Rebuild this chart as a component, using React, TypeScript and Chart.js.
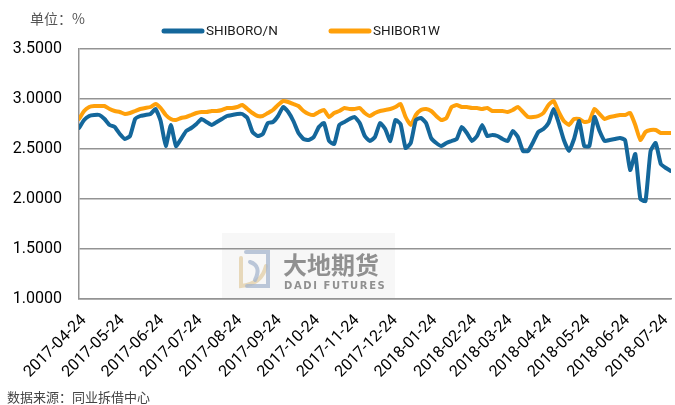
import React, { useEffect, useRef } from "react";
import { Chart, registerables } from "chart.js";

Chart.register(...registerables);

// ---------------- data ----------------
const startDate = "2017-04-24";
const stepDays = 4; // one sample every 4 calendar days
const seriesNames = ["SHIBORO/N", "SHIBOR1W"];
const tickLabels = [
  "2017-04-24", "2017-05-24", "2017-06-24", "2017-07-24", "2017-08-24",
  "2017-09-24", "2017-10-24", "2017-11-24", "2017-12-24", "2018-01-24",
  "2018-02-24", "2018-03-24", "2018-04-24", "2018-05-24", "2018-06-24",
  "2018-07-24",
];
const yTicks = [1.0, 1.5, 2.0, 2.5, 3.0, 3.5];

const shiborON = [
  2.71, 2.79, 2.83, 2.84, 2.84, 2.80, 2.74, 2.72, 2.65, 2.60,
  2.63, 2.80, 2.83, 2.84, 2.85, 2.90, 2.78, 2.53, 2.74, 2.53,
  2.60, 2.68, 2.71, 2.75, 2.80, 2.77, 2.74, 2.77, 2.80, 2.83,
  2.84, 2.85, 2.85, 2.81, 2.67, 2.63, 2.65, 2.76, 2.77, 2.83,
  2.92, 2.87, 2.78, 2.66, 2.60, 2.59, 2.62, 2.72, 2.76, 2.58,
  2.55, 2.74, 2.77, 2.80, 2.82, 2.76, 2.63, 2.58, 2.62, 2.76,
  2.70, 2.58, 2.79, 2.75, 2.51, 2.56, 2.79, 2.81, 2.76, 2.61,
  2.56, 2.53, 2.56, 2.58, 2.60, 2.72, 2.66, 2.58, 2.63, 2.74,
  2.63, 2.64, 2.63, 2.60, 2.58, 2.68, 2.62, 2.48, 2.48, 2.57,
  2.67, 2.70, 2.76, 2.90, 2.76, 2.59, 2.48, 2.60, 2.78, 2.53,
  2.53, 2.82, 2.68, 2.58, 2.59, 2.60, 2.61, 2.59, 2.29, 2.45,
  2.00, 1.98, 2.48, 2.56, 2.35, 2.31, 2.28,
];

const shibor1W = [
  2.80, 2.88, 2.92, 2.93, 2.93, 2.93, 2.90, 2.88, 2.87, 2.85,
  2.86, 2.88, 2.90, 2.91, 2.92, 2.95, 2.91, 2.84, 2.80, 2.79,
  2.81, 2.82, 2.84, 2.86, 2.87, 2.87, 2.88, 2.88, 2.89, 2.91,
  2.91, 2.92, 2.94, 2.90, 2.86, 2.83, 2.83, 2.86, 2.89, 2.94,
  2.98, 2.97, 2.95, 2.93, 2.88, 2.85, 2.84, 2.87, 2.89, 2.82,
  2.86, 2.88, 2.91, 2.90, 2.90, 2.91, 2.86, 2.83, 2.86, 2.88,
  2.89, 2.90, 2.92, 2.95, 2.82, 2.74, 2.84, 2.89, 2.90, 2.88,
  2.83, 2.79, 2.81, 2.92, 2.94, 2.92, 2.92, 2.91, 2.91, 2.90,
  2.91, 2.88, 2.88, 2.88, 2.87, 2.89, 2.92, 2.87, 2.82, 2.82,
  2.83, 2.86, 2.94, 2.98, 2.87, 2.78, 2.74, 2.80, 2.80, 2.77,
  2.78, 2.90, 2.85, 2.80, 2.82, 2.83, 2.84, 2.84, 2.86, 2.74,
  2.59, 2.67, 2.69, 2.69, 2.66, 2.66, 2.66,
];

// ---------------- styles ----------------
const BLUE = "#14679b";
const ORANGE = "#ffa00a";
const GRID = "#939393";
const FONT = "Roboto, 'Liberation Sans', sans-serif";

function dayOffset(s: string): number {
  const [y, m, d] = s.split("-").map(Number);
  const [y0, m0, d0] = startDate.split("-").map(Number);
  return Math.round((Date.UTC(y, m - 1, d) - Date.UTC(y0, m0 - 1, d0)) / 86400000);
}

const watermarkPlugin = {
  id: "watermark",
  beforeDraw(chart: any) {
    const ctx = chart.ctx as CanvasRenderingContext2D;
    ctx.save();
    ctx.fillStyle = "rgba(245,245,245,0.8)";
    ctx.fillRect(222, 233, 173, 65);
    // logo
    ctx.lineWidth = 4;
    ctx.lineCap = "round";
    ctx.strokeStyle = "rgba(225,205,165,0.75)";
    ctx.beginPath();
    ctx.moveTo(241, 258);
    ctx.lineTo(241, 286);
    ctx.quadraticCurveTo(262, 284, 266, 266);
    ctx.stroke();
    ctx.strokeStyle = "rgba(165,182,205,0.75)";
    ctx.beginPath();
    ctx.moveTo(246, 252);
    ctx.lineTo(268, 252);
    ctx.lineTo(268, 286);
    ctx.lineTo(247, 286);
    ctx.stroke();
    ctx.beginPath();
    ctx.moveTo(250, 262);
    ctx.quadraticCurveTo(262, 266, 255, 280);
    ctx.stroke();
    // text
    ctx.fillStyle = "rgba(110,110,110,0.75)";
    ctx.textBaseline = "alphabetic";
    ctx.textAlign = "left";
    ctx.font = "bold 24px 'Noto Sans CJK SC'";
    ctx.fillText("大地期货", 283, 274);
    ctx.font = "bold 10px 'DejaVu Sans'";
    const sub = "DADI FUTURES";
    let x = 284;
    for (const ch of sub) {
      ctx.fillText(ch, x, 289);
      x += ctx.measureText(ch).width + 1.6;
    }
    ctx.restore();
  },
};

const legendPlugin = {
  id: "customLegend",
  afterDraw(chart: any) {
    const ctx = chart.ctx as CanvasRenderingContext2D;
    const xs = [162, 329];
    const y = 31;
    ctx.save();
    chart.data.datasets.forEach((ds: any, i: number) => {
      const x = xs[i];
      ctx.strokeStyle = ds.borderColor;
      ctx.lineWidth = 5;
      ctx.lineCap = "round";
      ctx.beginPath();
      ctx.moveTo(x + 2, y);
      ctx.lineTo(x + 40, y);
      ctx.stroke();
      ctx.fillStyle = "#1a1a1a";
      ctx.font = `13.5px ${FONT}`;
      ctx.textBaseline = "middle";
      ctx.textAlign = "left";
      ctx.fillText(ds.label, x + 44, y + 1);
    });
    ctx.restore();
  },
};

export default function App() {
  const ref = useRef<HTMLCanvasElement>(null);

  useEffect(() => {
    const canvas = ref.current!;
    const tickDays = tickLabels.map(dayOffset);
    const toPoints = (vals: number[]) => vals.map((v, i) => ({ x: i * stepDays, y: v }));
    const xMax = (shiborON.length - 1) * stepDays;

    const lineStyle = {
      borderWidth: 4,
      pointRadius: 0,
      tension: 0.15,
      borderJoinStyle: "round" as const,
      borderCapStyle: "round" as const,
      fill: false,
    };

    const chart = new Chart(canvas, {
      type: "line",
      data: {
        datasets: [
          { label: seriesNames[0], data: toPoints(shiborON), borderColor: BLUE, backgroundColor: BLUE, ...lineStyle },
          { label: seriesNames[1], data: toPoints(shibor1W), borderColor: ORANGE, backgroundColor: ORANGE, ...lineStyle },
        ],
      },
      options: {
        responsive: false,
        animation: false,
        layout: { padding: { left: 0, right: 4, top: 49, bottom: 0 } },
        plugins: { legend: { display: false }, tooltip: { enabled: false } },
        scales: {
          x: {
            type: "linear",
            min: 0,
            max: xMax,
            afterBuildTicks: (s: any) => {
              s.ticks = tickDays.map((v) => ({ value: v }));
            },
            afterFit: (s: any) => {
              s.height = 106;
              s.paddingLeft = 0;
              s.paddingRight = 0;
            },
            grid: { display: false, drawTicks: false },
            border: { color: GRID, width: 1.5 },
            ticks: {
              autoSkip: false,
              minRotation: 45,
              maxRotation: 45,
              padding: 12,
              labelOffset: 5,
              color: "#000",
              font: { family: FONT, size: 16 },
              callback: (v: any) => {
                const i = tickDays.indexOf(Number(v));
                return i >= 0 ? tickLabels[i] : "";
              },
            },
          },
          y: {
            min: 1,
            max: 3.5,
            afterBuildTicks: (s: any) => {
              s.ticks = yTicks.map((v) => ({ value: v }));
            },
            afterFit: (s: any) => {
              s.width = 79;
            },
            grid: { color: GRID, lineWidth: 1.5, drawTicks: false },
            border: { color: GRID, width: 1.5 },
            ticks: {
              padding: 17,
              color: "#000",
              font: { family: FONT, size: 16 },
              callback: (v: any) => Number(v).toFixed(4),
            },
          },
        },
      },
      plugins: [watermarkPlugin, legendPlugin],
    });
    return () => chart.destroy();
  }, []);

  return (
    <div style={{ position: "fixed", left: 0, top: 0, width: 675, height: 405, background: "#fff" }}>
      <canvas ref={ref} width={675} height={405} style={{ display: "block" }} />
      <div
        style={{
          position: "absolute", left: 30, top: 9, fontSize: 14, color: "#555",
          fontFamily: "'Noto Sans CJK SC', sans-serif", whiteSpace: "nowrap", lineHeight: "18px",
        }}
      >
        单位：%
      </div>
      <div
        style={{
          position: "absolute", left: 7, top: 388, fontSize: 13, color: "#444",
          fontFamily: "'Noto Sans CJK SC', sans-serif", whiteSpace: "nowrap", lineHeight: "17px",
        }}
      >
        数据来源：同业拆借中心
      </div>
    </div>
  );
}
